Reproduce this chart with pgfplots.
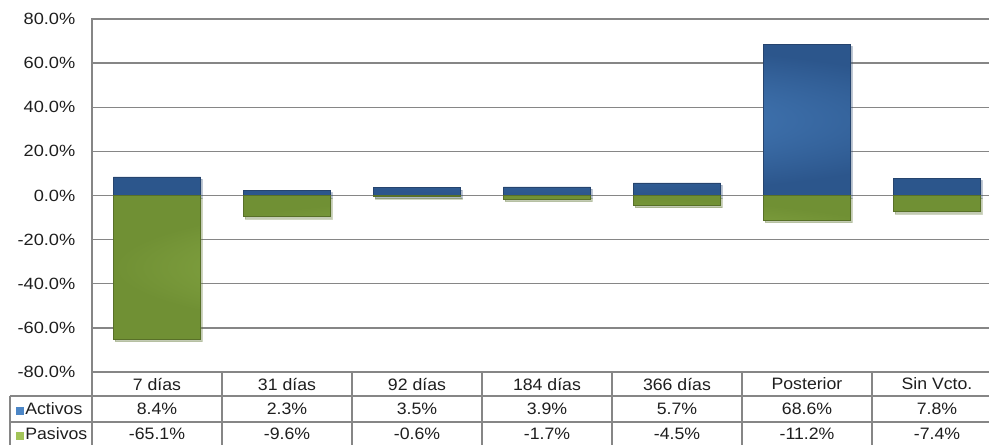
\documentclass[border=0pt]{standalone}
\usepackage{pgfplots}
\pgfplotsset{compat=1.18}
\usepackage{fontspec}
\setmainfont{Liberation Sans}
\newfontfamily\tickfont{Liberation Sans}[FakeStretch=1.12]
\newfontfamily\tabfont{Liberation Sans}[FakeStretch=1.07]
\usetikzlibrary{shadows}
\definecolor{gridgray}{RGB}{134,134,134}
\definecolor{bluein}{RGB}{76,134,198}
\definecolor{blueout}{RGB}{44,86,140}
\definecolor{blueedge}{RGB}{38,68,110}
\definecolor{greenin}{RGB}{162,196,88}
\definecolor{greenout}{RGB}{112,144,52}
\definecolor{greenedge}{RGB}{88,112,40}
\definecolor{txt}{RGB}{30,30,30}
\tikzset{tabnode/.style={font=\tabfont\fontsize{12.4}{14}\selectfont, text=txt}}
\begin{document}
\begin{tikzpicture}
\useasboundingbox (0,0) rectangle (741.75pt,-333pt);
\clip (0,0) rectangle (741.75pt,-333pt);
\begin{axis}[
  at={(69pt,-14.25pt)}, anchor=north west,
  scale only axis, width=682.5pt, height=264.75pt,
  xmin=-0.5, xmax=6.5, ymin=-80, ymax=80,
  ytick={-80,-60,-40,-20,0,20,40,60,80},
  yticklabels={-80.0\%,-60.0\%,-40.0\%,-20.0\%,0.0\%,20.0\%,40.0\%,60.0\%,80.0\%},
  xtick=\empty,
  ymajorgrids, grid style={gridgray, line width=1.1pt},
  axis line style={gridgray, line width=1.1pt},
  major tick length=0pt,
  yticklabel style={font=\tickfont\fontsize{12.2}{14}\selectfont, text=txt, xshift=-9pt},
  clip=false,
  ybar, bar width=0.67, bar shift=0pt,
]
\addplot[draw=blueedge, line width=0.6pt, inner color=bluein, outer color=blueout,
  drop shadow={shadow xshift=1.2pt, shadow yshift=-1.8pt, opacity=0.25}]
  coordinates {(0,8.4) (1,2.3) (2,3.5) (3,3.9) (4,5.7) (5,68.6) (6,7.8)};
\addplot[draw=greenedge, line width=0.6pt, inner color=greenin, outer color=greenout,
  drop shadow={shadow xshift=1.2pt, shadow yshift=-1.8pt, opacity=0.25}]
  coordinates {(0,-65.1) (1,-9.6) (2,-0.6) (3,-1.7) (4,-4.5) (5,-11.2) (6,-7.4)};
% data table below the plot
\draw[gridgray, line width=1.1pt] (axis cs:-0.5,-80) -- (axis cs:7.5,-80);
\draw[gridgray, line width=1.1pt] (axis cs:-1.131,-90.88) -- (axis cs:7.5,-90.88);
\draw[gridgray, line width=1.1pt] (axis cs:-1.131,-102.66) -- (axis cs:7.5,-102.66);
\draw[gridgray, line width=1.1pt] (axis cs:-1.131,-90.88) -- (axis cs:-1.131,-116);
\pgfplotsinvokeforeach{-0.5,0.5,1.5,2.5,3.5,4.5,5.5,6.5}{
  \draw[gridgray, line width=1.1pt] (axis cs:#1,-80) -- (axis cs:#1,-116);
}
\node[tabnode] at (axis cs:0,-85.44) {7 días};
\node[tabnode] at (axis cs:1,-85.44) {31 días};
\node[tabnode] at (axis cs:2,-85.44) {92 días};
\node[tabnode] at (axis cs:3,-85.44) {184 días};
\node[tabnode] at (axis cs:4,-85.44) {366 días};
\node[tabnode] at (axis cs:5,-85.44) {Posterior};
\node[tabnode] at (axis cs:6,-85.44) {Sin Vcto.};
\node[tabnode] at (axis cs:0,-96.77) {8.4\%};
\node[tabnode] at (axis cs:1,-96.77) {2.3\%};
\node[tabnode] at (axis cs:2,-96.77) {3.5\%};
\node[tabnode] at (axis cs:3,-96.77) {3.9\%};
\node[tabnode] at (axis cs:4,-96.77) {5.7\%};
\node[tabnode] at (axis cs:5,-96.77) {68.6\%};
\node[tabnode] at (axis cs:6,-96.77) {7.8\%};
\node[tabnode] at (axis cs:0,-108.1) {-65.1\%};
\node[tabnode] at (axis cs:1,-108.1) {-9.6\%};
\node[tabnode] at (axis cs:2,-108.1) {-0.6\%};
\node[tabnode] at (axis cs:3,-108.1) {-1.7\%};
\node[tabnode] at (axis cs:4,-108.1) {-4.5\%};
\node[tabnode] at (axis cs:5,-108.1) {-11.2\%};
\node[tabnode] at (axis cs:6,-108.1) {-7.4\%};
\node[tabnode, anchor=west, xshift=1pt] at (axis cs:-1.131,-96.77)
  {\textcolor{bluein}{\rule{6pt}{6pt}}\kern1pt Activos};
\node[tabnode, anchor=west, xshift=1pt] at (axis cs:-1.131,-108.1)
  {\textcolor{greenin}{\rule{6pt}{6pt}}\kern1pt Pasivos};
\end{axis}
\end{tikzpicture}
\end{document}
